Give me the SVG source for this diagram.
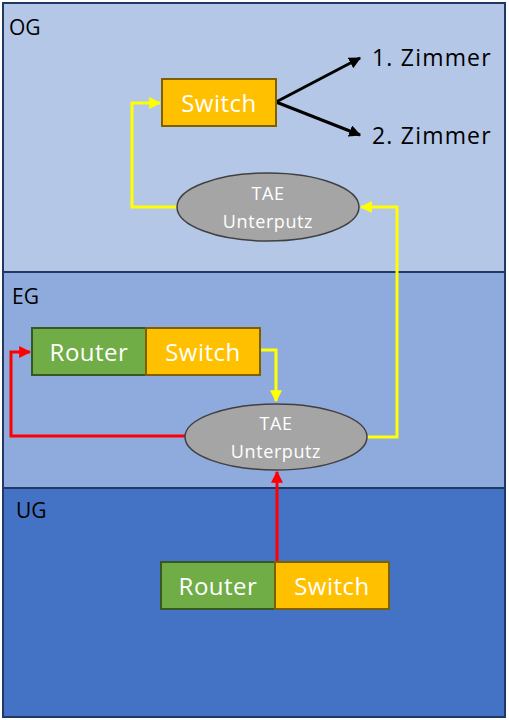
<svg xmlns="http://www.w3.org/2000/svg" width="509" height="720" viewBox="0 0 509 720">
<defs>
<style>
.floor{stroke:#1F3864;stroke-width:2}
.lbl{font-family:"Open Sans","Liberation Sans",sans-serif;font-size:21px;fill:#000}
.zm{font-size:23px;letter-spacing:1.2px}
.box{stroke-width:2}
.sw{fill:#FFC000;stroke:#7F6000}
.rt{fill:#70AD47;stroke:#385723}
.bt{font-family:"Open Sans","Liberation Sans",sans-serif;font-size:24px;letter-spacing:0.5px;fill:#fff;text-anchor:middle}
.tae{fill:#A5A5A5;stroke:#404040;stroke-width:1.5}
.tt{font-family:"Open Sans","Liberation Sans",sans-serif;font-size:18px;letter-spacing:0.6px;fill:#fff;text-anchor:middle}
.y{fill:none;stroke:#FFFF00;stroke-width:3}
.r{fill:none;stroke:#FF0000;stroke-width:3}
.k{fill:none;stroke:#000;stroke-width:3}
</style>
<marker id="ay" viewBox="0 0 10 10" refX="9" refY="5" markerWidth="4" markerHeight="4" orient="auto" markerUnits="strokeWidth"><path d="M0,0 L10,5 L0,10 z" fill="#FFFF00"/></marker>
<marker id="ar" viewBox="0 0 10 10" refX="9" refY="5" markerWidth="4" markerHeight="4" orient="auto" markerUnits="strokeWidth"><path d="M0,0 L10,5 L0,10 z" fill="#FF0000"/></marker>
<marker id="ak" viewBox="0 0 10 10" refX="9" refY="5" markerWidth="4" markerHeight="4" orient="auto" markerUnits="strokeWidth"><path d="M0,0 L10,5 L0,10 z" fill="#000"/></marker>
</defs>
<g id="floor-og"><rect class="floor" x="3" y="3" width="502" height="269" fill="#B4C7E7"/><text class="lbl" x="9" y="35">OG</text></g>
<g id="floor-eg"><rect class="floor" x="3" y="272" width="502" height="216" fill="#8FAADC"/><text class="lbl" x="12" y="304">EG</text></g>
<g id="floor-ug"><rect class="floor" x="3" y="488" width="502" height="229" fill="#4472C4"/><text class="lbl" x="16" y="518">UG</text></g>

<g id="connectors">
<polyline class="k" points="276,102 360,58" marker-end="url(#ak)"/>
<polyline class="k" points="276,102 360,135" marker-end="url(#ak)"/>
<polyline class="y" points="177,207 132,207 132,103 160,103" marker-end="url(#ay)"/>
<polyline class="y" points="367,437 397,437 397,207 361,207" marker-end="url(#ay)"/>
<polyline class="y" points="260,350 276,350 276,401" marker-end="url(#ay)"/>
<polyline class="r" points="185,436 11,436 11,352 30,352" marker-end="url(#ar)"/>
<polyline class="r" points="277,562 277,472" marker-end="url(#ar)"/>
</g>

<g id="og-switch"><rect class="box sw" x="162" y="79" width="114" height="47"/><text class="bt" x="219" y="112">Switch</text></g>
<g id="zimmer1"><text class="lbl zm" x="372" y="66">1. Zimmer</text></g>
<g id="zimmer2"><text class="lbl zm" x="372" y="144">2. Zimmer</text></g>
<g id="og-tae"><ellipse class="tae" cx="268" cy="207" rx="91" ry="34"/><text class="tt" x="268" y="200">TAE</text><text class="tt" x="268" y="228">Unterputz</text></g>

<g id="eg-router"><rect class="box rt" x="32" y="328" width="114" height="47"/><text class="bt" x="89" y="361">Router</text></g>
<g id="eg-switch"><rect class="box sw" x="146" y="328" width="114" height="47"/><text class="bt" x="203" y="361">Switch</text></g>
<g id="eg-tae"><ellipse class="tae" cx="276" cy="437" rx="91" ry="33"/><text class="tt" x="276" y="430">TAE</text><text class="tt" x="276" y="458">Unterputz</text></g>

<g id="ug-router"><rect class="box rt" x="161" y="562" width="114" height="47"/><text class="bt" x="218" y="595">Router</text></g>
<g id="ug-switch"><rect class="box sw" x="275" y="562" width="114" height="47"/><text class="bt" x="332" y="595">Switch</text></g>
</svg>
